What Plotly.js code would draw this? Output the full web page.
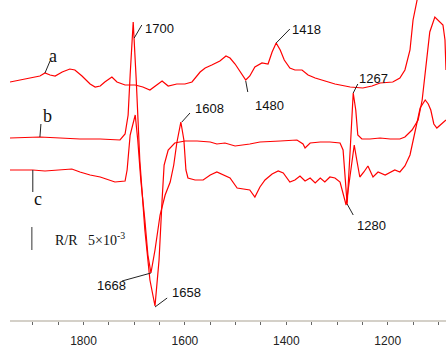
<!DOCTYPE html>
<html><head><meta charset="utf-8">
<script src="https://cdn.plot.ly/plotly-3.0.1.min.js"></script>
<style>html,body{margin:0;padding:0;background:#fff}#g{width:446px;height:349px}</style>
</head><body><div id="g"></div>
<script>
// wavenumber (cm-1) and offset reflectance signal (units of 1e-3, spectra stacked)
const waveA = [1945,1925,1906,1886,1876,1866,1856,1842,1827,1817,1803,1787,1777,1767,1758,1744,1734,1718,1698,1683,1669,1659,1645,1633,1616,1600,1586,1570,1560,1547,1531,1519,1511,1501,1491,1480,1472,1462,1448,1436,1428,1420,1412,1404,1393,1383,1369,1357,1343,1324,1304,1274,1249,1231,1215,1190,1176,1166,1156,1150,1142,1138];
const specA = [47.6,48,48.4,48.8,49.4,49,48.8,49.6,50.2,50,48.8,47.2,46.6,46.8,47.6,48.6,47.6,47,47,46.6,46,46.8,47.8,46.8,47.2,47.2,47.6,49.6,50.4,51,51.8,52.8,52.4,51.2,49.6,48,48.8,50.6,51.4,51.2,53.6,55.4,54,52,50.4,50,50,49,48.4,47.8,47.2,46.6,46.4,46.8,47.4,47.6,48.4,50,54,60,64,68];

const waveB = [1945,1886,1846,1807,1767,1738,1728,1718,1712,1708,1702,1696,1689,1679,1669,1659,1651,1645,1641,1633,1620,1600,1576,1550,1537,1521,1501,1472,1452,1412,1379,1367,1363,1353,1333,1314,1294,1288,1284,1280,1274,1268,1263,1259,1251,1235,1215,1195,1176,1166,1152,1140,1132,1126,1117,1107,1097,1091,1087,1085];
const specB = [36.4,36.6,36.4,36.2,36.2,36,36,37.2,41,49,59.6,48,32,18,8,2.8,12,24,31,34,35.4,35.8,35.8,35.6,35.2,35.4,34.8,35.2,35.6,35.8,36,35.2,34.4,35.4,35.6,35.6,35.4,34,29,23.2,34,45.4,42,37,36.2,36.2,36.4,36.2,36.2,36.6,38,40,44,50,57.6,60.6,59.6,59,56,50];

const waveC = [1945,1925,1900,1876,1846,1823,1807,1787,1767,1748,1738,1718,1714,1708,1698,1693,1687,1679,1673,1667,1659,1649,1639,1629,1622,1616,1608,1602,1598,1594,1580,1564,1550,1537,1511,1497,1481,1472,1462,1452,1442,1428,1416,1406,1393,1383,1373,1363,1353,1343,1333,1324,1314,1304,1294,1288,1282,1274,1266,1261,1255,1247,1239,1229,1219,1205,1195,1186,1176,1166,1156,1146,1136,1126,1120,1115,1109,1103,1095,1085];
const specC = [30,30,30,29.8,30,30.2,29.6,29,28.6,28,27.6,27.8,30,37,41,36,28,20,13,9.4,14,21,25,27.6,31,35.4,39.6,36,30,28.4,28,28,29,29.6,28.4,26.4,26.2,26,24.6,26.6,28,29.2,29.8,29.4,27.6,28,28.8,27.8,28.4,27.4,28.4,27.6,28.6,28.4,27.6,25,23,29,35,32,28.6,29.6,30.8,28.6,29.6,29,29.6,30,29.6,30.8,33,37.4,42.4,44,43.2,42,39.2,38.4,39.2,40];

const tickVals = [1800,1600,1400,1200];
const tickText = ['1800','1600','1400','1200'];

// peak labels: [text, label x, label y, point x, point y, leader end x, leader end y]
const peaks = [
  ['1700',1683,58.4,1700,56.4,1685,59],
  ['1418',1393,58.2,1420,55.4,1393,58.2],
  ['1480',1466,43,1480,47.8,1476,45.6],
  ['1608',1584,42.4,1606,39.6,1590,41.4],
  ['1267',1261,48.4,1268,45.4,1259,47.2],
  ['1280',1264,19,1280,23.2,1268,21],
  ['1668',1777,7,1667,9.4,1724,7.8],
  ['1658',1629,5.6,1659,2.6,1635,4.4]
];
const curveLabels = [
  ['a',1860,52.8,1876,49.4,1866,51.8],
  ['b',1872,40.8,1886,36.6,1884,39.2],
  ['c',1890,24.2,1900,30,1900,25.6]
];

const mk = (x,y)=>({x:x,y:y,type:'scatter',mode:'lines',line:{color:'#ff0000',width:1.2},hoverinfo:'skip',showlegend:false});
const data = [mk(waveA,specA), mk(waveB,specB), mk(waveC,specC)];

const shapes = [];
const annotations = [];
peaks.forEach(p=>{
  shapes.push({type:'line',xref:'x',yref:'y',x0:p[3],y0:p[4],x1:p[5],y1:p[6],line:{color:'#222',width:1}});
  annotations.push({xref:'x',yref:'y',x:p[1],y:p[2],text:p[0],showarrow:false,xanchor:'left',yanchor:'middle',
    font:{family:'Liberation Sans, Arial, sans-serif',size:13,color:'#111'}});
});
curveLabels.forEach(p=>{
  shapes.push({type:'line',xref:'x',yref:'y',x0:p[3],y0:p[4],x1:p[5],y1:p[6],line:{color:'#222',width:1}});
  annotations.push({xref:'x',yref:'y',x:p[1],y:p[2],text:p[0],showarrow:false,xanchor:'center',yanchor:'middle',
    font:{family:'Liberation Serif, Times New Roman, serif',size:18,color:'#111'}});
});
// scale bar
shapes.push({type:'line',xref:'x',yref:'y',x0:1902,y0:14,x1:1902,y1:18.6,line:{color:'#777',width:1.5}});
annotations.push({xref:'x',yref:'y',x:1860,y:16.2,text:'R/R&nbsp;&nbsp;&nbsp;5×10<sup>-3</sup>',showarrow:false,xanchor:'left',yanchor:'middle',
  font:{family:'Liberation Serif, Times New Roman, serif',size:14,color:'#111'}});

const layout = {
  width:446,height:349,
  margin:{l:10,r:0,t:0,b:29,pad:0},
  paper_bgcolor:'#fff',plot_bgcolor:'#fff',
  showlegend:false,
  xaxis:{range:[1945,1085],showgrid:false,zeroline:false,showline:true,linecolor:'#d4d0c8',linewidth:2,
    tickmode:'array',tickvals:tickVals,ticktext:tickText,ticks:'outside',ticklen:3,tickwidth:1,tickcolor:'#666',
    minor:{dtick:50,tick0:1800,ticks:'outside',ticklen:3,tickwidth:1,tickcolor:'#666'},
    ticklabelstandoff:6,
    tickfont:{family:'Liberation Sans, Arial, sans-serif',size:12,color:'#222'}},
  yaxis:{range:[0,64],visible:false,showgrid:false,zeroline:false},
  shapes:shapes,annotations:annotations
};
Plotly.newPlot('g',data,layout,{staticPlot:true,displayModeBar:false});
</script></body></html>
